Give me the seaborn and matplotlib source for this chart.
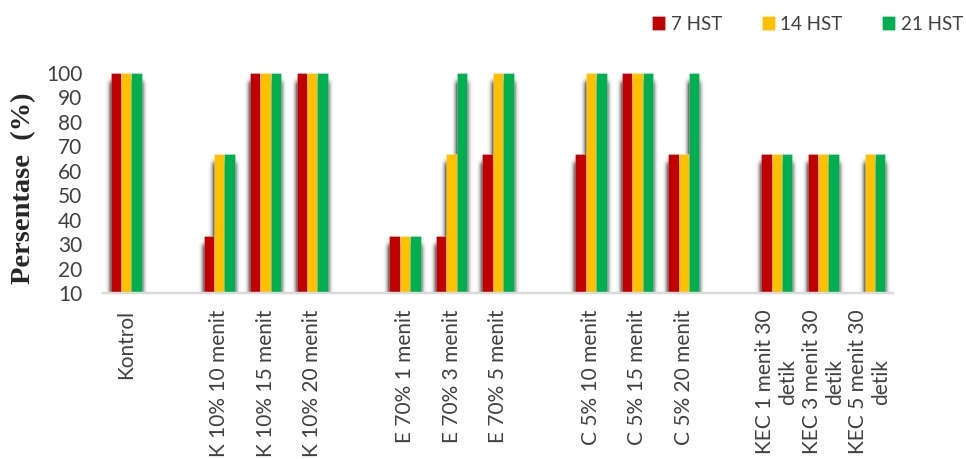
import numpy as np
import pandas as pd
import matplotlib
matplotlib.use("Agg")
import matplotlib.pyplot as plt
import seaborn as sns

# Treatment groups (blank strings leave empty slots between groups)
order = [
    "Kontrol", " ",
    "K 10% 10 menit", "K 10% 15 menit", "K 10% 20 menit", "  ",
    "E 70% 1 menit", "E 70% 3 menit", "E 70% 5 menit", "   ",
    "C 5% 10 menit", "C 5% 15 menit", "C 5% 20 menit", "    ",
    "KEC 1 menit 30\ndetik", "KEC 3 menit 30\ndetik", "KEC 5 menit 30\ndetik",
]
treatments = [c for c in order if c.strip()]
waktu = ["7 HST", "14 HST", "21 HST"]

hst_7 = [100, 33.3, 100, 100, 33.3, 33.3, 66.7, 66.7, 100, 66.7, 66.7, 66.7, 0]
hst_14 = [100, 66.7, 100, 100, 33.3, 66.7, 100, 100, 100, 66.7, 66.7, 66.7, 66.7]
hst_21 = [100, 66.7, 100, 100, 33.3, 100, 100, 100, 100, 100, 66.7, 66.7, 66.7]
colors = ["#C00000", "#FFC000", "#00B050"]
yticks = list(range(10, 101, 10))

df = pd.concat(
    [pd.DataFrame({"Perlakuan": treatments, "Waktu": w, "Persentase": v})
     for w, v in zip(waktu, [hst_7, hst_14, hst_21])],
    ignore_index=True,
)


def soft_shadow(sigma=2.6, drop=8, strength=1.25):
    """Blurred, slightly lowered drop shadow, cut off at the bar's base."""
    def _filter(img, dpi):
        pad = int(3 * sigma) + 2
        a = np.pad(img[..., 3], pad)
        r = np.arange(-pad, pad + 1)
        k = np.exp(-0.5 * (r / sigma) ** 2)
        k /= k.sum()
        b = sum(w * np.roll(a, s, axis=0) for s, w in zip(r, k))
        b = sum(w * np.roll(b, s, axis=1) for s, w in zip(r, k))
        out = np.zeros(a.shape + (4,))
        out[..., 3] = np.clip(b * strength, 0, 0.95)
        h = out.shape[0]
        cut = max(h - pad - drop, 0)
        out[cut:, :, 3] = 0
        return out, -pad, -pad - drop
    return _filter


sns.set_theme(style="white")
plt.rcParams["font.family"] = ["Lato", "DejaVu Sans"]

fig = plt.figure(figsize=(9.66, 4.59), dpi=100)
ax = fig.add_axes([103 / 966, 1 - 293 / 459, 790 / 966, 220 / 459])

# shadow layer
sns.barplot(data=df, x="Perlakuan", y="Persentase", hue="Waktu",
            order=order, hue_order=waktu, palette=["#3a3a3a"] * 3,
            width=0.67, errorbar=None, legend=False, ax=ax,
            linewidth=0, zorder=1)
for p in ax.patches:
    p.set_agg_filter(soft_shadow())

# coloured bars
sns.barplot(data=df, x="Perlakuan", y="Persentase", hue="Waktu",
            order=order, hue_order=waktu, palette=colors, saturation=1,
            width=0.67, errorbar=None, ax=ax, linewidth=0.6,
            edgecolor=(1, 1, 1, 0.3), zorder=2)

ax.set_xlim(-0.5, len(order) - 0.5)
ax.set_ylim(10, 100)
ax.set_yticks(yticks)
ax.set_xticks(range(len(order)))
ax.set_xticklabels(order, rotation=90, ha="center", va="top",
                   multialignment="center", linespacing=1.2)
ax.set_xlabel("")
ax.set_ylabel("")
ax.tick_params(axis="both", length=0)
ax.tick_params(axis="y", pad=15, labelsize=15, labelcolor="#404040")
ax.tick_params(axis="x", pad=12, labelsize=15, labelcolor="#404040")

sns.despine(ax=ax, left=True)
ax.spines["bottom"].set_color("#D9D9D9")
ax.spines["bottom"].set_linewidth(1.75)
ax.spines["bottom"].set_zorder(3)

sns.move_legend(ax, "upper right", bbox_to_anchor=(0.997, 0.966),
                bbox_transform=fig.transFigure, ncol=3, frameon=False,
                title=None, fontsize=13.5, handlelength=0.7,
                handleheight=0.7, handletextpad=0.3, columnspacing=2.1,
                borderpad=0, borderaxespad=0)
for t in ax.get_legend().get_texts():
    t.set_color("#404040")

fig.text(24 / 966, 1 - 188 / 459, "Persentase  (%)", rotation=90,
         ha="center", va="center", fontsize=20.5, fontweight="bold",
         family=["Liberation Serif", "DejaVu Serif"], color="#262626")

fig.savefig("out.png", dpi=100)
